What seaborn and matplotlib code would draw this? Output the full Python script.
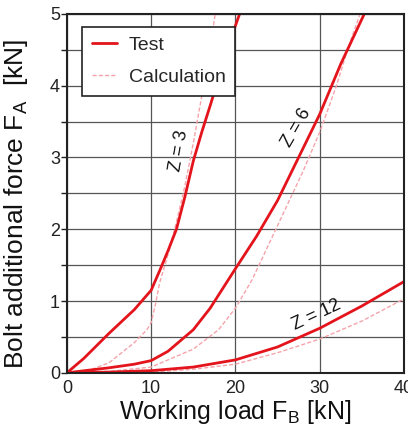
import matplotlib
matplotlib.use("Agg")
import matplotlib.pyplot as plt
import seaborn as sns
import pandas as pd
import numpy as np

# Test curves
test_z3_x = [0, 2, 5, 8, 10, 11, 12, 13, 14, 15, 16, 17, 18, 19, 20.5]
test_z3_y = [0, 0.2, 0.55, 0.88, 1.15, 1.42, 1.7, 2.0, 2.45, 2.95, 3.35, 3.72, 4.1, 4.5, 5.0]
test_z6_x = [0, 5, 8, 10, 12, 15, 17, 20, 22.5, 25, 27.5, 30, 32.5, 35.3]
test_z6_y = [0, 0.07, 0.12, 0.17, 0.3, 0.6, 0.9, 1.45, 1.9, 2.4, 3.0, 3.6, 4.3, 5.0]
test_z12_x = [0, 5, 10, 15, 20, 25, 30, 35, 40]
test_z12_y = [0, 0.01, 0.03, 0.08, 0.18, 0.36, 0.62, 0.93, 1.27]

# Calculation curves
calc_z3_x = [0, 3, 5, 8, 9.5, 10, 10.5, 11, 12, 13, 14, 15, 16, 17, 17.6]
calc_z3_y = [0, 0.05, 0.14, 0.42, 0.6, 0.7, 0.95, 1.25, 1.65, 2.1, 2.6, 3.2, 3.85, 4.5, 5.0]
calc_z6_x = [0, 5, 10, 15, 18, 20, 22, 24, 26, 28, 30, 32, 33.3, 34.8]
calc_z6_y = [0, 0.02, 0.08, 0.33, 0.6, 0.9, 1.3, 1.8, 2.3, 2.8, 3.35, 4.0, 4.5, 5.0]
calc_z12_x = [0, 10, 15, 20, 25, 30, 35, 40]
calc_z12_y = [0, 0.01, 0.05, 0.12, 0.28, 0.47, 0.72, 1.03]

labels = ["Z = 3", "Z = 6", "Z = 12"]

sns.set_theme(style="white")
plt.rcParams['font.family'] = ['Liberation Sans', 'DejaVu Sans']

fig = plt.figure(figsize=(4.08, 4.32), dpi=100)
ax = fig.add_axes([0.164, 0.137, 0.826, 0.831])

RED = "#e3141c"
PINK = "#f5a3aa"

calc_sets = [(calc_z3_x, calc_z3_y), (calc_z6_x, calc_z6_y), (calc_z12_x, calc_z12_y)]
test_sets = [(test_z3_x, test_z3_y), (test_z6_x, test_z6_y), (test_z12_x, test_z12_y)]

for i, (xs, ys) in enumerate(calc_sets):
    df = pd.DataFrame({"x": xs, "y": ys})
    sns.lineplot(data=df, x="x", y="y", ax=ax, color=PINK, lw=1.0,
                 linestyle=(0, (3, 1.5)), label="Calculation" if i == 0 else None,
                 sort=False)
for i, (xs, ys) in enumerate(test_sets):
    df = pd.DataFrame({"x": xs, "y": ys})
    sns.lineplot(data=df, x="x", y="y", ax=ax, color=RED, lw=2.0,
                 label="Test" if i == 0 else None, sort=False)

ax.set_xlim(0, 40)
ax.set_ylim(0, 5)
ax.set_xticks([0, 10, 20, 30, 40])
ax.set_yticks([0, 1, 2, 3, 4, 5])
ax.set_yticks(np.arange(0, 5.01, 0.5), minor=True)
ax.grid(True, which="both", color="#555555", lw=0.9)
ax.set_axisbelow(True)
for s in ax.spines.values():
    s.set_color("#222222")
    s.set_linewidth(1.5)
ax.tick_params(axis="both", which="major", labelsize=13, colors="#222222",
               direction="out", length=4, width=1, pad=1, left=True, bottom=False)
ax.tick_params(axis="y", which="minor", length=4, width=1, left=True, colors="#222222")

ax.set_xlabel("Working load F$_\\mathregular{B}$ [kN]", fontsize=18, labelpad=1, color="#111111")
ax.set_ylabel("Bolt additional force F$_\\mathregular{A}$  [kN]", fontsize=19, color="#111111")
ax.yaxis.set_label_coords(-0.11, 0.47)

ax.text(13.3, 3.1, labels[0], rotation=80, fontsize=13, ha="center", va="center", color="#111111")
ax.text(27.3, 3.42, labels[1], rotation=60, fontsize=13, ha="center", va="center", color="#111111")
ax.text(29.6, 0.8, labels[2], rotation=25, fontsize=13, ha="center", va="center", color="#111111")

h, l = ax.get_legend_handles_labels()
order = [l.index("Test"), l.index("Calculation")]
leg = ax.legend([h[o] for o in order], [l[o] for o in order], loc="upper left",
                bbox_to_anchor=(0.045, 0.964), fontsize=14, frameon=True, fancybox=False,
                edgecolor="#222222", framealpha=1, handlelength=1.3, borderpad=0.5,
                labelspacing=0.75, handletextpad=0.6, borderaxespad=0)
leg.get_frame().set_linewidth(1.2)

fig.savefig("out.png", dpi=100)
